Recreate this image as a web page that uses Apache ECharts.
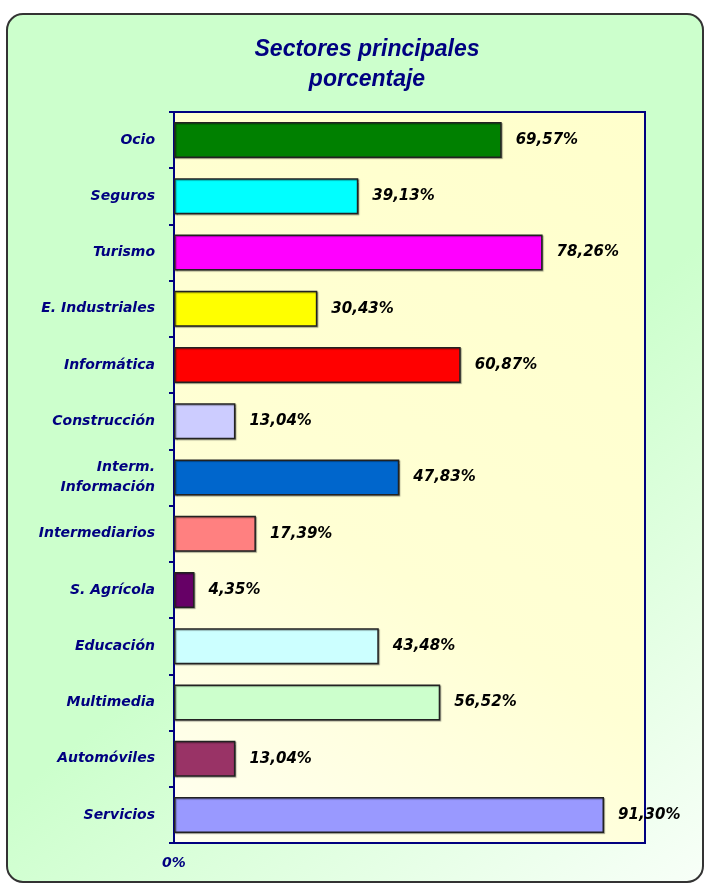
<!DOCTYPE html>
<html>
<head>
<meta charset="utf-8">
<script src="https://cdn.jsdelivr.net/npm/echarts@6/dist/echarts.min.js"></script>
<style>
html,body{margin:0;padding:0;background:#ffffff;}
#chart{width:706px;height:885px;}
</style>
</head>
<body>
<div id="chart"></div>
<script>
const categories = ['Ocio','Seguros','Turismo','E. Industriales','Informática','Construcción','Interm.\nInformación','Intermediarios','S. Agrícola','Educación','Multimedia','Automóviles','Servicios'];
const values = [69.57, 39.13, 78.26, 30.43, 60.87, 13.04, 47.83, 17.39, 4.35, 43.48, 56.52, 13.04, 91.30];
const barColors = ['#008000','#00FFFF','#FF00FF','#FFFF00','#FF0000','#CCCCFF','#0066CC','#FF8080','#660066','#CCFFFF','#CCFFCC','#993366','#9999FF'];
const titleText = 'Sectores principales\nporcentaje';
const xTickLabels = ['0%'];

const chart = echarts.init(document.getElementById('chart'));
const fmt = v => v.toFixed(2).replace('.', ',') + '%';

chart.setOption({
  animation: false,
  backgroundColor: '#ffffff',
  graphic: [{
    type: 'rect',
    z: -10,
    silent: true,
    shape: {x: 7, y: 14, width: 696, height: 868, r: 16},
    style: {
      fill: new echarts.graphic.LinearGradient(0, 0, 1, 1, [
        {offset: 0, color: '#CCFFCC'},
        {offset: 0.55, color: '#CCFFCC'},
        {offset: 1, color: '#F8FFF8'}
      ]),
      stroke: '#333333',
      lineWidth: 2
    }
  }],
  title: {
    text: titleText,
    left: 362,
    textAlign: 'center',
    top: 30,
    textStyle: {
      color: '#000080',
      fontFamily: 'Liberation Sans',
      fontStyle: 'italic',
      fontWeight: 'bold',
      fontSize: 23,
      lineHeight: 30
    }
  },
  grid: {
    left: 174, top: 112, width: 471, height: 731,
    show: true,
    borderColor: '#000080',
    borderWidth: 2,
    backgroundColor: new echarts.graphic.LinearGradient(1, 0, 0, 1, [
      {offset: 0, color: '#FFFFCC'},
      {offset: 0.6, color: '#FFFFD4'},
      {offset: 1, color: '#FFFFF0'}
    ])
  },
  xAxis: {
    type: 'value',
    min: 0, max: 100, interval: 100,
    splitLine: {show: false},
    axisLine: {show: true, lineStyle: {color: '#000080', width: 2}},
    axisTick: {show: false},
    axisLabel: {
      formatter: v => v === 0 ? xTickLabels[0] : '',
      color: '#000080',
      fontFamily: 'DejaVu Sans',
      fontStyle: 'italic',
      fontWeight: 'bold',
      fontSize: 14,
      margin: 13
    }
  },
  yAxis: {
    type: 'category',
    data: categories,
    inverse: true,
    axisLine: {show: true, lineStyle: {color: '#000080', width: 2}},
    axisTick: {show: true, length: 5, lineStyle: {color: '#000080', width: 2}},
    axisLabel: {
      color: '#000080',
      fontFamily: 'DejaVu Sans',
      fontStyle: 'italic',
      fontWeight: 'bold',
      fontSize: 14,
      margin: 19,
      align: 'right',
      lineHeight: 20
    }
  },
  series: [{
    type: 'bar',
    data: values.map((v, i) => ({value: v, itemStyle: {color: barColors[i]}})),
    barCategoryGap: '36%',
    itemStyle: {
      borderColor: '#222222',
      borderWidth: 1.5,
      shadowColor: 'rgba(0,0,0,0.35)',
      shadowOffsetX: 1,
      shadowOffsetY: 1,
      shadowBlur: 1
    },
    label: {
      show: true,
      position: 'right',
      distance: 14,
      formatter: p => fmt(p.value),
      color: '#000000',
      fontFamily: 'DejaVu Sans',
      fontStyle: 'italic',
      fontWeight: 'bold',
      fontSize: 15
    }
  }]
});
</script>
</body>
</html>
